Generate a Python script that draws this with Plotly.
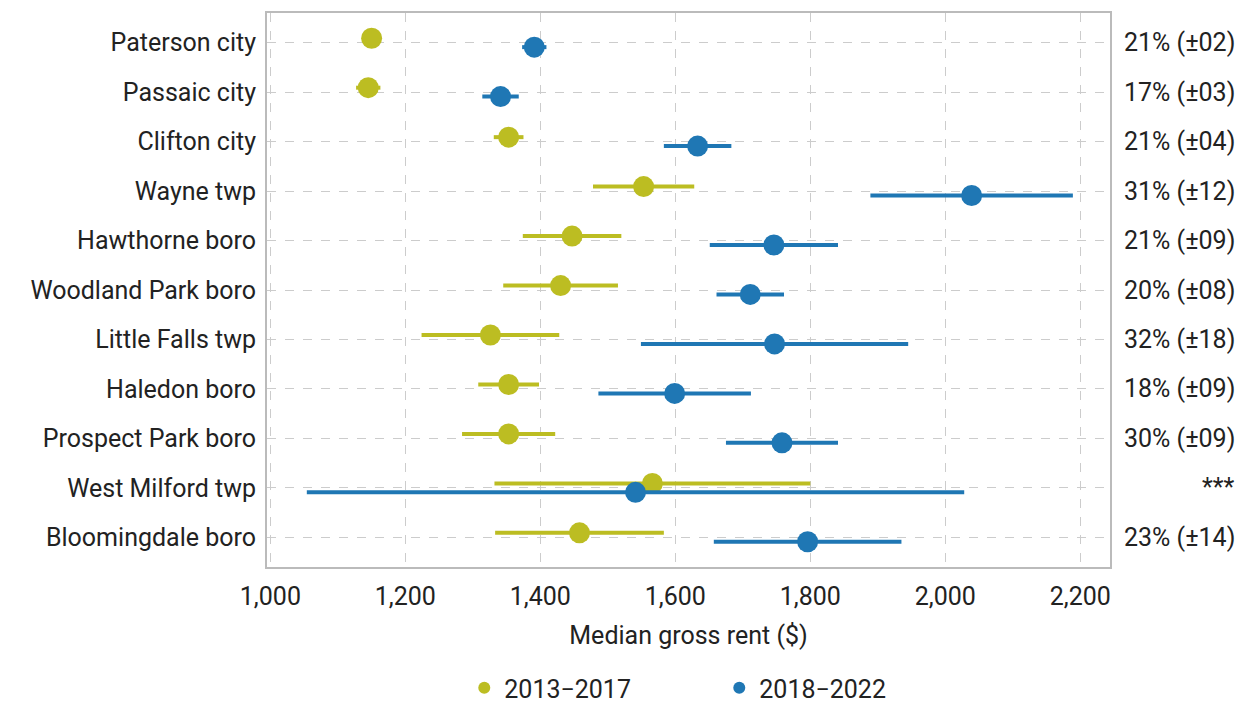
import plotly.graph_objects as go

places = ["Paterson city", "Passaic city", "Clifton city", "Wayne twp", "Hawthorne boro",
          "Woodland Park boro", "Little Falls twp", "Haledon boro", "Prospect Park boro",
          "West Milford twp", "Bloomingdale boro"]
rent_2013_2017 = [1150, 1145, 1353, 1553, 1447, 1430, 1326, 1353, 1353, 1566, 1458]
moe_2013_2017 = [10, 18, 22, 75, 73, 85, 102, 45, 69, 234, 125]
rent_2018_2022 = [1391, 1341, 1633, 2039, 1746, 1711, 1747, 1599, 1758, 1541, 1796]
moe_2018_2022 = [18, 27, 50, 150, 95, 50, 198, 113, 83, 487, 139]
change_labels = ["21% (±02)", "17% (±03)", "21% (±04)", "31% (±12)", "21% (±09)", "20% (±08)",
                 "32% (±18)", "18% (±09)", "30% (±09)", "***", "23% (±14)"]
x_ticks = [1000, 1200, 1400, 1600, 1800, 2000, 2200]

c1 = "#bcbd22"
c2 = "#1f77b4"
dodge = 0.09
idx = list(range(len(places)))
fs = 25

fig = go.Figure()
fig.add_trace(go.Scatter(
    x=rent_2013_2017, y=[i - dodge for i in idx], mode="markers", name="2013\u22122017",
    marker=dict(color=c1, size=21),
    error_x=dict(type="data", array=moe_2013_2017, color=c1, thickness=4, width=0),
))
fig.add_trace(go.Scatter(
    x=rent_2018_2022, y=[i + dodge for i in idx], mode="markers", name="2018\u22122022",
    marker=dict(color=c2, size=21),
    error_x=dict(type="data", array=moe_2018_2022, color=c2, thickness=4, width=0),
))

for i, lab in enumerate(change_labels):
    fig.add_annotation(x=1, xref="paper", y=i, yref="y", text=lab, showarrow=False,
                       xanchor="right", xshift=127, font=dict(size=fs, color="#222"))

grid = dict(showgrid=True, gridcolor="#cccccc", griddash="dash", gridwidth=1)
fig.update_layout(
    width=1238, height=705,
    margin=dict(l=267, r=128, t=13, b=138, autoexpand=False),
    plot_bgcolor="white", paper_bgcolor="white",
    font=dict(family="Roboto", size=fs, color="#222"),
    showlegend=True,
    legend=dict(orientation="h", x=0.581, xref="container", xanchor="center",
                y=0.024, yref="container", yanchor="middle",
                entrywidth=210, entrywidthmode="pixels",
                font=dict(size=fs), itemsizing="constant"),
    xaxis=dict(range=[995, 2244], tickvals=x_ticks, tickformat=",d", zeroline=False,
               showline=True, linecolor="#bbbbbb", linewidth=2, mirror=True,
               title=dict(text="Median gross rent ($)", font=dict(size=fs), standoff=16),
               ticks="", ticklabelstandoff=6, **grid),
    yaxis=dict(range=[10.6, -0.6], tickvals=idx, ticktext=places, zeroline=False,
               showline=True, linecolor="#bbbbbb", linewidth=2, mirror=True,
               ticks="", ticklabelstandoff=4, **grid),
)
fig.write_html("out.html")
